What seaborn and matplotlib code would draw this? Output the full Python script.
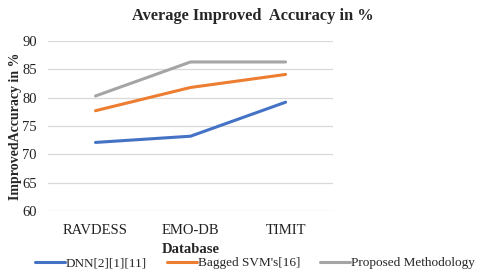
import matplotlib
matplotlib.use("Agg")
import matplotlib.pyplot as plt
import seaborn as sns
import pandas as pd

databases = ["RAVDESS", "EMO-DB", "TIMIT"]
series_names = ["DNN[2][1][11]", "Bagged SVM's[16]", "Proposed Methodology"]
dnn = [72.1, 73.2, 79.2]
bagged_svm = [77.7, 81.8, 84.1]
proposed = [80.3, 86.3, 86.3]
y_ticks = [60, 65, 70, 75, 80, 85, 90]

df = pd.DataFrame({
    "Database": databases * 3,
    "Accuracy": dnn + bagged_svm + proposed,
    "Method": [s for s in series_names for _ in databases],
})

sns.set_style("white")
plt.rcParams["font.family"] = ["Liberation Serif", "DejaVu Serif"]

fig = plt.figure(figsize=(4.8, 2.78), dpi=100)
ax = fig.add_axes([0.1, 0.241, 0.594, 0.6115])

palette = ["#4472C4", "#ED7D31", "#A5A5A5"]
sns.lineplot(data=df, x="Database", y="Accuracy", hue="Method",
             palette=palette, linewidth=2.2, sort=False, ax=ax, legend=True)

ax.set_xlim(-0.5, 2.5)
ax.set_ylim(60, 90)
ax.set_yticks(y_ticks)
ax.grid(axis="y", color="#d9d9d9", linewidth=0.9)
ax.set_axisbelow(True)
for s in ax.spines.values():
    s.set_visible(False)
ax.tick_params(axis="both", length=0, labelsize=10.5, colors="#222222")
ax.tick_params(axis="x", pad=9)
ax.tick_params(axis="y", pad=8)

ax.set_xlabel("Database", fontsize=10.5, fontweight="bold", labelpad=5)
ax.set_ylabel("ImprovedAccuracy in %", fontsize=10, fontweight="bold", labelpad=0)

fig.text(253 / 480, 1 - 16 / 278, "Average Improved  Accuracy in %",
         ha="center", va="center", fontsize=11.8, fontweight="bold")

handles, labels = ax.get_legend_handles_labels()
ax.get_legend().remove()
fig.legend(handles, labels, loc="center", bbox_to_anchor=(255 / 480, 1 - 263 / 278),
           ncol=3, frameon=False, fontsize=9.5, handlelength=2.3,
           handletextpad=0.05, columnspacing=1.5, borderpad=0.1)

fig.savefig("out.png", dpi=100)
